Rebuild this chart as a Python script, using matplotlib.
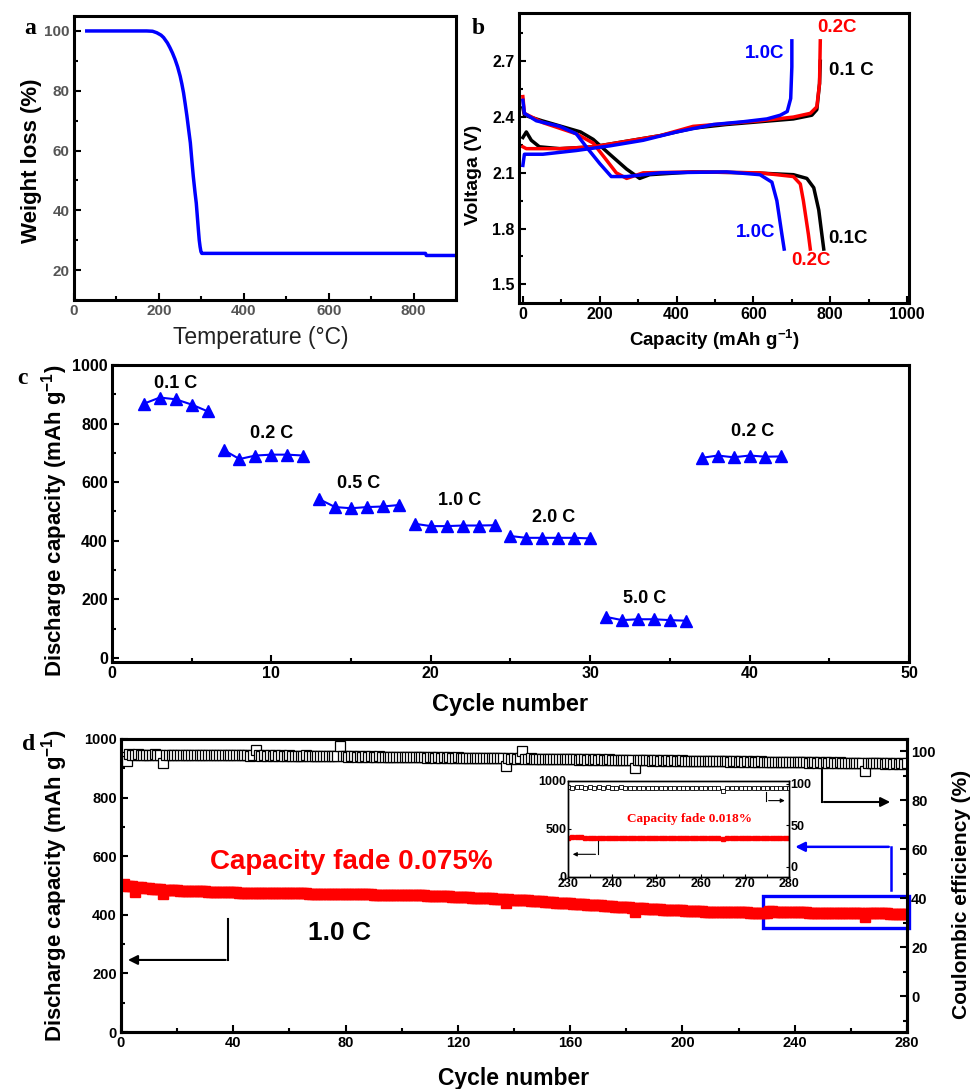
import matplotlib.pyplot as plt
from matplotlib.patches import Rectangle
from matplotlib.ticker import MultipleLocator

# ---- panel a: TGA ----
tga_temp = [30, 171, 185, 195, 205, 211, 220, 226, 232, 238, 244, 250, 254, 258,
            262, 266, 270, 274, 278, 281, 285, 288, 291, 293, 295, 297, 299, 301,
            828, 830, 900]
tga_weight = [100, 100, 99.9, 99.4, 98.6, 97.8, 96.0, 94.4, 92.6, 90.5, 88.0, 84.9,
              82.3, 79.3, 75.5, 71.5, 67.0, 62.6, 56.0, 51.3, 46.0, 42.4, 37.0, 33.4,
              30.0, 27.8, 26.2, 25.6, 25.6, 24.9, 24.9]

# ---- panel b: charge / discharge profiles ----
dis_01_cap = [0, 4, 50, 100, 150, 183, 226, 270, 304, 330, 443, 600, 704, 739, 757, 770, 778, 783]
dis_01_v = [2.45, 2.41, 2.38, 2.35, 2.32, 2.28, 2.20, 2.12, 2.07, 2.09, 2.105, 2.10, 2.09, 2.07, 2.02, 1.90, 1.77, 1.69]
chg_01_cap = [0, 9, 22, 43, 96, 183, 270, 357, 443, 530, 617, 704, 752, 765, 772, 774]
chg_01_v = [2.29, 2.32, 2.275, 2.24, 2.23, 2.24, 2.27, 2.30, 2.34, 2.36, 2.375, 2.39, 2.41, 2.44, 2.58, 2.70]

dis_02_cap = [0, 4, 52, 139, 183, 217, 243, 270, 313, 443, 617, 704, 722, 730, 743, 748]
dis_02_v = [2.51, 2.42, 2.37, 2.31, 2.26, 2.17, 2.10, 2.07, 2.10, 2.105, 2.10, 2.08, 2.04, 1.95, 1.77, 1.69]
chg_02_cap = [0, 9, 96, 183, 270, 357, 443, 530, 617, 704, 748, 765, 772, 774]
chg_02_v = [2.24, 2.23, 2.23, 2.24, 2.27, 2.30, 2.35, 2.365, 2.38, 2.40, 2.42, 2.455, 2.58, 2.81]

dis_10_cap = [0, 4, 35, 96, 139, 165, 200, 230, 270, 357, 530, 617, 648, 661, 674, 680]
dis_10_v = [2.49, 2.42, 2.38, 2.35, 2.31, 2.24, 2.15, 2.08, 2.08, 2.10, 2.105, 2.09, 2.05, 1.95, 1.77, 1.69]
chg_10_cap = [0, 4, 52, 139, 226, 313, 400, 496, 574, 635, 670, 688, 697, 700, 700]
chg_10_v = [2.14, 2.20, 2.20, 2.22, 2.245, 2.275, 2.32, 2.36, 2.375, 2.39, 2.41, 2.43, 2.50, 2.67, 2.81]

b_labels = ['1.0C', '0.2C', '0.1 C', '1.0C', '0.2C', '0.1C']
b_label_cap = [628, 817, 854, 607, 750, 846]
b_label_v = [2.743, 2.883, 2.652, 1.781, 1.63, 1.748]
b_label_color = ['#0000ff', '#ff0000', 'black', '#0000ff', '#ff0000', 'black']

# ---- panel c: rate capability ----
rate_cycle = list(range(2, 43))
rate_cap = [868, 889, 883, 865, 842,
            710, 679, 691, 694, 694, 691,
            542, 515, 511, 515, 517, 522,
            458, 450, 450, 452, 452, 453,
            416, 410, 410, 410, 410, 408,
            140, 129, 132, 132, 129, 127,
            683, 691, 685, 691, 687, 688]
rate_group_size = [5, 6, 6, 6, 6, 6, 6]
rate_labels = ['0.1 C', '0.2 C', '0.5 C', '1.0 C', '2.0 C', '5.0 C', '0.2 C']
rate_label_x = [4.0, 10.0, 15.5, 21.8, 27.7, 33.4, 40.2]
rate_label_y = [937, 767, 596, 538, 479, 204, 773]

# ---- panel d: long cycling at 1.0 C ----
cyc_capacity = [
    505, 500, 498, 497, 478, 495, 494, 492, 491, 490, 489, 488, 487, 487, 470, 486, 485, 485, 484, 484,
    483, 483, 482, 482, 481, 481, 481, 480, 480, 480, 479, 479, 479, 478, 478, 478, 478, 477, 477, 477,
    477, 476, 476, 476, 476, 475, 475, 475, 475, 475, 474, 474, 474, 474, 474, 474, 474, 473, 473, 473,
    473, 473, 473, 473, 473, 473, 472, 472, 472, 472, 472, 472, 472, 472, 471, 471, 471, 471, 471, 471,
    471, 471, 470, 470, 470, 470, 470, 470, 470, 469, 469, 469, 469, 469, 469, 468, 468, 468, 468, 468,
    467, 467, 467, 467, 466, 466, 466, 466, 465, 465, 465, 464, 464, 464, 463, 463, 463, 462, 462, 462,
    461, 461, 460, 460, 459, 459, 458, 458, 457, 457, 456, 456, 455, 455, 454, 454, 440, 453, 452, 452,
    451, 451, 450, 450, 449, 448, 448, 447, 446, 446, 445, 444, 444, 443, 442, 442, 441, 440, 440, 439,
    438, 438, 437, 436, 436, 435, 434, 434, 433, 432, 432, 431, 430, 430, 429, 428, 428, 427, 426, 426,
    425, 424, 410, 423, 423, 422, 421, 421, 420, 420, 419, 419, 418, 418, 417, 417, 416, 416, 415, 415,
    414, 414, 413, 413, 413, 412, 412, 411, 411, 411, 410, 410, 410, 409, 409, 409, 409, 408, 408, 408,
    408, 408, 408, 407, 407, 407, 407, 407, 407, 407, 413, 412, 411, 410, 410, 409, 409, 409, 408, 408,
    408, 408, 408, 408, 407, 407, 407, 407, 407, 407, 407, 406, 406, 406, 406, 406, 406, 406, 406, 406,
    405, 405, 405, 405, 393, 405, 405, 405, 405, 405, 405, 405, 405, 404, 404, 404, 404, 404, 404, 404,
]
cyc_ce = [
    97.5, 96.0, 98.8, 98.6, 98.4, 98.7, 98.5, 98.6, 98.4, 98.6, 98.5, 98.7, 98.4, 98.5, 95.2, 98.5, 98.6, 98.4, 98.5, 98.6,
    98.4, 98.5, 98.6, 98.4, 98.5, 98.6, 98.4, 98.5, 98.3, 98.5, 98.4, 98.6, 98.4, 98.3, 98.5, 98.4, 98.6, 98.3, 98.4, 98.5,
    98.3, 98.4, 98.5, 98.3, 98.4, 98.2, 98.4, 100.5, 98.3, 98.2, 98.4, 98.2, 98.3, 98.1, 98.3, 98.2, 98.4, 98.1, 98.2, 98.3,
    98.1, 98.2, 98.0, 98.2, 98.1, 98.3, 98.0, 98.1, 98.2, 98.0, 98.1, 97.9, 98.1, 98.0, 98.2, 97.9, 98.0, 102.0, 98.0, 97.9,
    97.8, 98.0, 97.9, 97.8, 98.0, 97.8, 97.9, 97.7, 97.9, 97.8, 97.7, 97.9, 97.7, 97.8, 97.6, 97.8, 97.7, 97.6, 97.8, 97.6,
    97.7, 97.5, 97.7, 97.6, 97.5, 97.7, 97.5, 97.6, 97.4, 97.6, 97.5, 97.4, 97.6, 97.4, 97.5, 97.3, 97.5, 97.4, 97.3, 97.5,
    97.3, 97.4, 97.2, 97.4, 97.3, 97.2, 97.4, 97.2, 97.3, 97.1, 97.3, 97.2, 97.1, 97.3, 97.1, 97.2, 94.0, 97.1, 97.0, 97.2,
    97.0, 97.1, 100.3, 97.0, 96.9, 97.1, 96.9, 97.0, 96.8, 97.0, 96.9, 96.8, 97.0, 96.8, 96.9, 96.7, 96.9, 96.8, 96.7, 96.9,
    96.7, 96.8, 96.6, 96.8, 96.7, 96.6, 96.8, 96.6, 96.7, 96.5, 96.7, 96.6, 96.5, 96.7, 96.5, 96.6, 96.4, 96.6, 96.5, 96.4,
    96.6, 96.4, 93.0, 96.4, 96.3, 96.5, 96.3, 96.4, 96.2, 96.4, 96.3, 96.2, 96.4, 96.2, 96.3, 96.1, 96.3, 96.2, 96.1, 96.3,
    96.1, 96.2, 96.0, 96.2, 96.1, 96.0, 96.2, 96.0, 96.1, 95.9, 96.1, 96.0, 95.9, 96.1, 95.9, 96.0, 95.8, 96.0, 95.9, 95.8,
    96.0, 95.8, 95.9, 95.7, 95.9, 95.8, 95.7, 95.9, 95.7, 95.8, 95.6, 95.8, 95.7, 95.6, 95.8, 95.6, 95.7, 95.5, 95.7, 95.6,
    95.5, 95.7, 95.5, 95.6, 95.4, 95.6, 95.5, 95.4, 95.6, 95.4, 95.5, 95.3, 95.5, 95.4, 95.3, 95.5, 95.3, 95.4, 95.2, 95.4,
    95.3, 95.2, 95.4, 95.2, 92.0, 95.3, 95.2, 95.1, 95.3, 95.1, 95.2, 95.0, 95.2, 95.1, 95.0, 95.2, 95.0, 95.1, 94.9, 95.1,
]
cyc_number = list(range(1, len(cyc_capacity) + 1))

plt.rcParams['font.family'] = ['Liberation Sans', 'DejaVu Sans']
plt.rcParams['font.weight'] = 'bold'
plt.rcParams['axes.labelweight'] = 'bold'
plt.rcParams['mathtext.default'] = 'regular'

BLUE = '#0000ff'
RED = '#ff0000'


def style_axes(ax, lw=2.2, size=10, color='black', right=False):
    for s in ax.spines.values():
        s.set_linewidth(lw)
    ax.tick_params(which='both', direction='in', width=1.5, labelsize=size,
                   labelcolor=color, top=False, right=right, pad=3)
    ax.tick_params(which='major', length=5)
    ax.tick_params(which='minor', length=3)


fig = plt.figure(figsize=(9.78, 10.89), dpi=100)

# ---------------- a ----------------
ax_a = fig.add_axes([0.0757, 0.7245, 0.3906, 0.2608])
ax_a.plot(tga_temp, tga_weight, color=BLUE, lw=2.5)
ax_a.set_xlim(0, 900)
ax_a.xaxis.set_major_locator(MultipleLocator(200))
ax_a.xaxis.set_minor_locator(MultipleLocator(100))
ax_a.set_yticks([20, 40, 60, 80, 100])
ax_a.yaxis.set_minor_locator(MultipleLocator(10))
ax_a.set_ylim(10, 105)
style_axes(ax_a, size=11, color='#555555')
ax_a.set_ylabel('Weight loss (%)', fontsize=16)
ax_a.yaxis.set_label_coords(-0.085, 0.49)
ax_a.set_xlabel('Temperature (°C)', fontsize=16.5, fontweight='normal', color='#222222')
ax_a.xaxis.set_label_coords(0.49, -0.09)

# ---------------- b ----------------
ax_b = fig.add_axes([0.5307, 0.7218, 0.3988, 0.2663])
for cap, v, col in [(dis_01_cap, dis_01_v, 'black'), (chg_01_cap, chg_01_v, 'black'),
                    (dis_02_cap, dis_02_v, RED), (chg_02_cap, chg_02_v, RED),
                    (dis_10_cap, dis_10_v, BLUE), (chg_10_cap, chg_10_v, BLUE)]:
    ax_b.plot(cap, v, color=col, lw=2.5, solid_joinstyle='round')
ax_b.set_xlim(-10, 1005)
ax_b.xaxis.set_major_locator(MultipleLocator(200))
ax_b.xaxis.set_minor_locator(MultipleLocator(100))
ax_b.set_yticks([1.5, 1.8, 2.1, 2.4, 2.7])
ax_b.yaxis.set_minor_locator(MultipleLocator(0.15))
ax_b.set_ylim(1.4, 2.96)
style_axes(ax_b, size=11.5)
ax_b.set_ylabel('Voltaga (V)', fontsize=14)
ax_b.yaxis.set_label_coords(-0.094, 0.44)
ax_b.set_xlabel('Capacity (mAh g$^{-1}$)', fontsize=13.5)
ax_b.xaxis.set_label_coords(0.50, -0.085)
for txt, x, y, col in zip(b_labels, b_label_cap, b_label_v, b_label_color):
    ax_b.text(x, y, txt, color=col, fontsize=13.5, ha='center', va='center')

# ---------------- c ----------------
ax_c = fig.add_axes([0.1145, 0.3921, 0.8149, 0.2727])
start = 0
for n in rate_group_size:
    ax_c.plot(rate_cycle[start:start + n], rate_cap[start:start + n], color=BLUE,
              marker='^', ms=8.5, lw=1.5)
    start += n
for txt, x, y in zip(rate_labels, rate_label_x, rate_label_y):
    ax_c.text(x, y, txt, fontsize=13, ha='center', va='center')
ax_c.set_xlim(0, 50)
ax_c.xaxis.set_major_locator(MultipleLocator(10))
ax_c.xaxis.set_minor_locator(MultipleLocator(5))
ax_c.set_yticks([0, 200, 400, 600, 800, 1000])
ax_c.yaxis.set_minor_locator(MultipleLocator(100))
ax_c.set_ylim(-14, 1000)
style_axes(ax_c, size=11.5)
ax_c.set_ylabel('Discharge capacity (mAh g$^{-1}$)', fontsize=16)
ax_c.yaxis.set_label_coords(-0.053, 0.475)
ax_c.set_xlabel('Cycle number', fontsize=17)
ax_c.xaxis.set_label_coords(0.50, -0.105)

# ---------------- d ----------------
ax_d = fig.add_axes([0.1237, 0.0523, 0.8037, 0.2691])
ax_d.plot(cyc_number, cyc_capacity, color=RED, marker='s', ms=7, lw=1.0, mec=RED)
ax_d.set_xlim(0, 280)
ax_d.set_ylim(0, 1000)
ax_d.xaxis.set_major_locator(MultipleLocator(40))
ax_d.xaxis.set_minor_locator(MultipleLocator(20))
ax_d.yaxis.set_major_locator(MultipleLocator(200))
ax_d.yaxis.set_minor_locator(MultipleLocator(100))
style_axes(ax_d, size=10.5)
ax_d.set_ylabel('Discharge capacity (mAh g$^{-1}$)', fontsize=16)
ax_d.yaxis.set_label_coords(-0.065, 0.498)
ax_d.set_xlabel('Cycle number', fontsize=16.5)
ax_d.xaxis.set_label_coords(0.50, -0.118)

ax_d2 = ax_d.twinx()
ax_d2.plot(cyc_number, cyc_ce, color='black', marker='s', ms=7, lw=0.8,
           mfc='white', mec='black', mew=0.9)
ax_d2.set_yticks([0, 20, 40, 60, 80, 100])
ax_d2.yaxis.set_minor_locator(MultipleLocator(10))
ax_d2.set_ylim(-14.5, 105)
style_axes(ax_d2, size=10.5, right=True)
ax_d2.tick_params(which='both', left=False)
ax_d2.set_ylabel('Coulombic efficiency (%)', fontsize=15)
ax_d2.yaxis.set_label_coords(1.057, 0.47)

ax_d.text(82, 580, 'Capacity fade 0.075%', color=RED, fontsize=20, ha='center', va='center')
ax_d.text(78, 337, '1.0 C', color='black', fontsize=19, ha='center', va='center')

# arrows pointing to the axes
ax_d.plot([38, 38], [386, 246], color='black', lw=1.5)
ax_d.annotate('', xy=(1.5, 246), xytext=(38.3, 246),
              arrowprops=dict(arrowstyle='-|>', color='black', lw=1.5, mutation_scale=14))
ax_d.plot([249.7, 249.7], [894, 785], color='black', lw=1.5)
ax_d.annotate('', xy=(275, 785), xytext=(249.4, 785),
              arrowprops=dict(arrowstyle='-|>', color='black', lw=1.5, mutation_scale=14))

# zoom box and blue arrow to inset
ax_d.add_patch(Rectangle((228.7, 355), 52, 110, fill=False, ec=BLUE, lw=2.4, clip_on=False))
ax_d.plot([274.2, 274.2], [485, 632], color=BLUE, lw=1.8)
ax_d.annotate('', xy=(239.2, 632), xytext=(274.5, 632),
              arrowprops=dict(arrowstyle='-|>', color=BLUE, lw=1.8, mutation_scale=14))

# ---------------- inset ----------------
ax_in = fig.add_axes([0.5805, 0.1947, 0.2266, 0.0882])
in_cyc = [c for c in cyc_number if c >= 230]
in_cap = [cyc_capacity[c - 1] for c in in_cyc]
in_ce = [cyc_ce[c - 1] for c in in_cyc]
ax_in.plot(in_cyc, in_cap, color=RED, marker='s', ms=2.5, lw=0.6, mec=RED)
ax_in.set_xlim(230, 280)
ax_in.set_xticks([230, 240, 250, 260, 270, 280])
ax_in.xaxis.set_minor_locator(MultipleLocator(5))
ax_in.set_yticks([0, 500, 1000])
ax_in.set_ylim(0, 1000)
style_axes(ax_in, lw=1.0, size=9)
ax_in.tick_params(which='both', width=0.8, length=2, pad=1)
ax_in2 = ax_in.twinx()
ax_in2.plot(in_cyc, in_ce, color='black', marker='s', ms=2.5, lw=0.5,
            mfc='white', mec='black', mew=0.6)
ax_in2.set_yticks([0, 50, 100])
ax_in2.set_ylim(-12.5, 103.6)
style_axes(ax_in2, lw=1.0, size=9, right=True)
ax_in2.tick_params(which='both', left=False, width=0.8, length=2, pad=1)
ax_in.text(257.4, 604, 'Capacity fade 0.018%', color=RED, fontsize=9.5,
           family='Liberation Serif', ha='center', va='center')
ax_in.plot([274.8, 274.8], [889, 795], color='black', lw=0.8)
ax_in.annotate('', xy=(279.6, 795), xytext=(274.7, 795),
               arrowprops=dict(arrowstyle='-|>', color='black', lw=0.8, mutation_scale=6))
ax_in.plot([236.8, 236.8], [378, 236], color='black', lw=0.8)
ax_in.annotate('', xy=(230.5, 236), xytext=(236.9, 236),
               arrowprops=dict(arrowstyle='-|>', color='black', lw=0.8, mutation_scale=6))

# panel letters
for letter, x, y in [('a', 0.031, 0.974), ('b', 0.489, 0.974), ('c', 0.023, 0.652), ('d', 0.029, 0.316)]:
    fig.text(x, y, letter, family='Liberation Serif', fontweight='bold', fontsize=17,
             ha='center', va='center')

fig.savefig('out.png', dpi=100)
